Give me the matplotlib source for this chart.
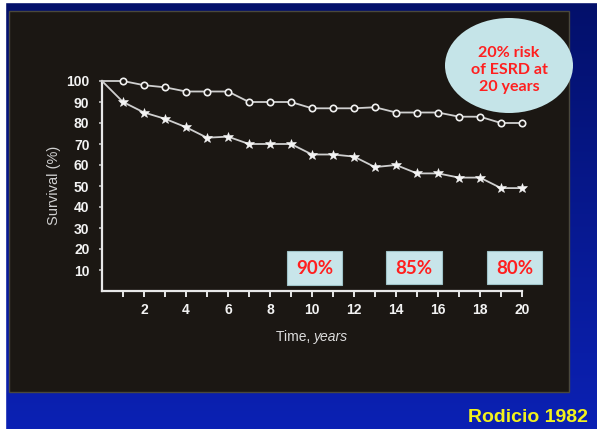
import numpy as np
import matplotlib
matplotlib.use("Agg")
import matplotlib.pyplot as plt
from matplotlib.patches import Rectangle, Ellipse

# Survival data, years 0-20
years = list(range(0, 21))
survival_top = [100, 100, 98, 97, 95, 95, 95, 90, 90, 90, 87, 87, 87, 87.5, 85, 85, 85, 83, 83, 80, 80]
survival_bottom = [100, 90, 85, 82, 78, 73, 73.5, 70, 70, 70, 65, 65, 64, 59, 60, 56, 56, 54, 54, 49, 49]

x_tick_values = list(range(2, 21, 2))
y_tick_values = list(range(10, 101, 10))

box_labels = ["90%", "85%", "80%"]
bubble_text = "20% risk\nof ESRD at\n20 years"
source_text = "Rodicio 1982"

W, H = 597, 429
fig = plt.figure(figsize=(W / 100, H / 100), dpi=100)

# Slide background: vertical blue gradient
bg = fig.add_axes([0, 0, 1, 1])
bg.set_xlim(0, W)
bg.set_ylim(H, 0)
bg.axis("off")
top_c = np.array([0x03, 0x10, 0x6a]) / 255
bot_c = np.array([0x0b, 0x21, 0xb4]) / 255
t = np.linspace(0, 1, 256)[:, None, None]
grad = top_c * (1 - t) + bot_c * t
bg.imshow(grad, extent=[0, W, H, 0], aspect="auto", interpolation="bilinear", zorder=0)
bg.add_patch(Rectangle((0, 0), 5, H, color="white", zorder=1))
bg.add_patch(Rectangle((0, 0), W, 2, color="white", zorder=1))

# Dark chart panel
bg.add_patch(Rectangle((9, 11), 560, 381, facecolor="#1b1713", edgecolor="#4a483c",
                       linewidth=1.0, zorder=2))

# Main plot
ax = fig.add_axes([102 / W, (H - 291) / H, 420 / W, 210 / H])
ax.set_facecolor("none")
ax.set_xlim(0, 20)
ax.set_ylim(0, 100)
for side in ["top", "right"]:
    ax.spines[side].set_visible(False)
for side in ["left", "bottom"]:
    ax.spines[side].set_color("#e8e8e8")
    ax.spines[side].set_linewidth(1.6)

line_color = "#cfcfcf"
ax.plot(years, survival_top, color=line_color, lw=1.3, marker="o", ms=4.6,
        mfc="#1b1713", mec="#f0f0f0", mew=1.2, markevery=list(range(1, 21)),
        clip_on=False, zorder=3)
ax.plot(years, survival_bottom, color=line_color, lw=1.3, marker="*", ms=7,
        mfc="#f4f4f4", mec="#f4f4f4", mew=0.4, markevery=list(range(1, 21)),
        clip_on=False, zorder=3)

ax.set_xticks(list(range(1, 21)))
ax.set_xticklabels([str(v) if v in x_tick_values else "" for v in range(1, 21)])
ax.set_yticks(y_tick_values)
ax.set_yticklabels([str(v) for v in y_tick_values])
ax.tick_params(axis="x", direction="out", length=4, width=1.4, color="#e8e8e8",
               labelcolor="#f2f2f2", labelsize=10, pad=5)
ax.tick_params(axis="y", direction="out", length=2, width=1.2, color="#bdbdbd",
               labelcolor="#f2f2f2", labelsize=10, pad=7)
for lab in ax.get_xticklabels() + ax.get_yticklabels():
    lab.set_fontfamily("Liberation Sans")
    lab.set_fontweight("bold")

fig.text(54 / W, (H - 185) / H, "Survival (%)", rotation=90, ha="center", va="center",
         color="#d0d0d0", fontsize=10.5, family="Liberation Sans")
fig.text(314 / W, (H - 337) / H, "Time, ", ha="right", va="center",
         color="#dcdcdc", fontsize=10, family="Liberation Sans")
fig.text(314 / W, (H - 337) / H, "years", ha="left", va="center", style="italic",
         color="#dcdcdc", fontsize=10, family="Liberation Sans")

# Highlight boxes
box_rects = [(287, 251, 55, 34), (386, 251, 56, 33), (487, 251, 55, 33)]
for (bx, by, bw, bh), lab in zip(box_rects, box_labels):
    bg.add_patch(Rectangle((bx, by), bw, bh, facecolor="#c8e5ea", edgecolor="#9fc3c8",
                           linewidth=0.8, zorder=5))
    bg.text(bx + bw / 2, by + bh / 2 + 1, lab, ha="center", va="center", color="#ff1f1f",
            fontsize=13.5, fontweight="bold", family="Lato", zorder=6)

# Risk bubble
bg.add_patch(Ellipse((509, 65.5), 128, 95, facecolor="#c5e4e8", edgecolor="none", zorder=5))
bg.text(509, 70, bubble_text, ha="center", va="center", color="#ff1f1f",
        fontsize=11.5, fontweight="bold", family="Lato", linespacing=1.25, zorder=6)

# Source
bg.text(588, 418, source_text, ha="right", va="center", color="#f2f21c",
        fontsize=14, fontweight="bold", family="Liberation Sans", zorder=6)

# Keep data axes above the background
bg.set_zorder(0)
ax.set_zorder(1)

fig.savefig("out.png", dpi=100)
